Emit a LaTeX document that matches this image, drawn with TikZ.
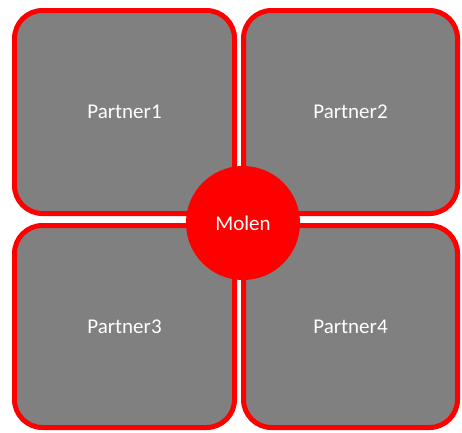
\documentclass[tikz,border=0pt]{standalone}
\usepackage{fontspec}
\setmainfont{Carlito}
\begin{document}
\begin{tikzpicture}[x=1pt,y=-1pt]
\useasboundingbox (0,0) rectangle (462,432);
\tikzset{partner/.style={rectangle, draw=red, fill=gray, line width=5pt, rounded corners=28pt, text=white, font=\fontsize{21}{24}\selectfont, minimum width=220pt, minimum height=203pt}}
\node[partner] (p1) at (124.5,112){Partner1};
\node[partner, minimum width=214pt] (p2) at (350.5,112){Partner2};
\node[partner, minimum height=202pt] (p3) at (124.5,326.5){Partner3};
\node[partner, minimum width=214pt, minimum height=202pt] (p4) at (350.5,326.5){Partner4};
\node[circle, fill=red, minimum size=114pt, inner sep=0pt, text=white, font=\fontsize{21}{24}\selectfont] (molen) at (243,223){Molen};
\end{tikzpicture}
\end{document}
